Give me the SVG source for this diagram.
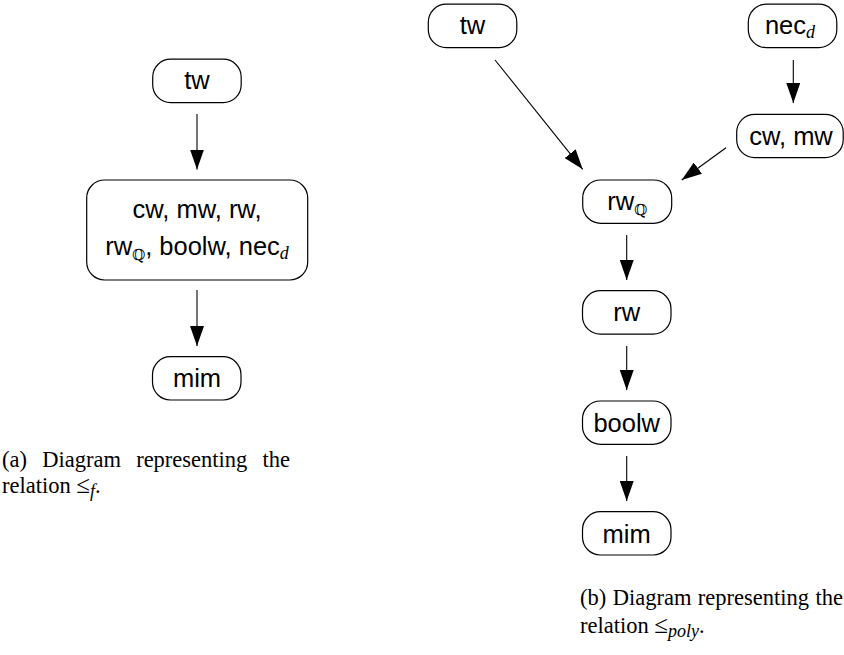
<svg xmlns="http://www.w3.org/2000/svg" width="844" height="655" viewBox="0 0 844 655">
<style>
.node rect{fill:#fff;stroke:#000;stroke-width:1.2}
.node text{font-family:"Liberation Sans",Arial,sans-serif;font-size:25.5px;text-anchor:middle;fill:#000}
.conn line{stroke:#000;stroke-width:1.1;marker-end:url(#ah)}
.cap{font-family:"Liberation Serif","Times New Roman",serif;font-size:22.5px;fill:#000}
.bb{font-family:"DejaVu Serif","DejaVu Sans","Noto Sans",serif;font-size:15px;fill:#000}
.mi{font-family:"Liberation Serif","Times New Roman",serif;font-style:italic}
</style>
<defs>
<marker id="ah" markerUnits="userSpaceOnUse" markerWidth="20" markerHeight="14" refX="20" refY="7" orient="auto"><path d="M0,0 L20,7 L0,14 z" fill="#000"/></marker>
</defs>
<rect width="844" height="655" fill="#fff"/>

<g id="connectors" class="conn">
<line x1="197" y1="114" x2="197" y2="169.5"/>
<line x1="197" y1="290" x2="197" y2="346"/>
<line x1="793.3" y1="60" x2="793.3" y2="103"/>
<line x1="495" y1="60" x2="582.7" y2="169.3"/>
<line x1="726" y1="147.7" x2="681.7" y2="180"/>
<line x1="626.7" y1="235" x2="626.7" y2="280"/>
<line x1="626.7" y1="346" x2="626.7" y2="390"/>
<line x1="626.7" y1="456" x2="626.7" y2="501"/>
</g>

<g id="a-tw" class="node"><rect x="152.7" y="59.2" width="88.5" height="43.5" rx="18"/><text x="197" y="89">tw</text></g>
<g id="a-group" class="node"><rect x="86.7" y="180" width="221" height="100" rx="18"/>
<text x="197" y="218">cw, mw, rw,</text>
<text x="197" y="255">rw<tspan class="bb" dy="5">ℚ</tspan><tspan dy="-5">, boolw, nec</tspan><tspan class="mi" font-size="18" dy="4">d</tspan></text></g>
<g id="a-mim" class="node"><rect x="152.5" y="356.7" width="88.5" height="43.3" rx="18"/><text x="197" y="387">mim</text></g>

<g id="b-tw" class="node"><rect x="428.3" y="4.2" width="88.5" height="43.5" rx="18"/><text x="472.5" y="34">tw</text></g>
<g id="b-nec" class="node"><rect x="748.3" y="4.2" width="88.5" height="43.5" rx="18"/><text x="790" y="34">nec<tspan class="mi" font-size="18" dy="4">d</tspan></text></g>
<g id="b-cwmw" class="node"><rect x="736.7" y="114.3" width="106.5" height="43.4" rx="18"/><text x="791" y="145">cw, mw</text></g>
<g id="b-rwq" class="node"><rect x="582.7" y="180" width="89" height="43.3" rx="18"/><text x="627.2" y="210">rw<tspan class="bb" dy="5">ℚ</tspan></text></g>
<g id="b-rw" class="node"><rect x="582.5" y="290.7" width="88.5" height="43.5" rx="18"/><text x="626.7" y="321">rw</text></g>
<g id="b-boolw" class="node"><rect x="582.5" y="401" width="88.5" height="43.3" rx="18"/><text x="626.7" y="432">boolw</text></g>
<g id="b-mim" class="node"><rect x="582.5" y="511.7" width="88.5" height="43.3" rx="18"/><text x="626.7" y="542.5">mim</text></g>

<g id="captions">
<text class="cap" x="2" y="467" word-spacing="9.6">(a) Diagram representing the</text>
<text class="cap" x="2" y="493">relation <tspan font-size="25">≤</tspan><tspan class="mi" font-size="18" dy="4">f</tspan><tspan dy="-4">.</tspan></text>
<text class="cap" x="580" y="605" word-spacing="0.8">(b) Diagram representing the</text>
<text class="cap" x="580" y="633">relation <tspan font-size="25">≤</tspan><tspan class="mi" font-size="18" dy="4">poly</tspan><tspan dy="-4">.</tspan></text>
</g>
</svg>
